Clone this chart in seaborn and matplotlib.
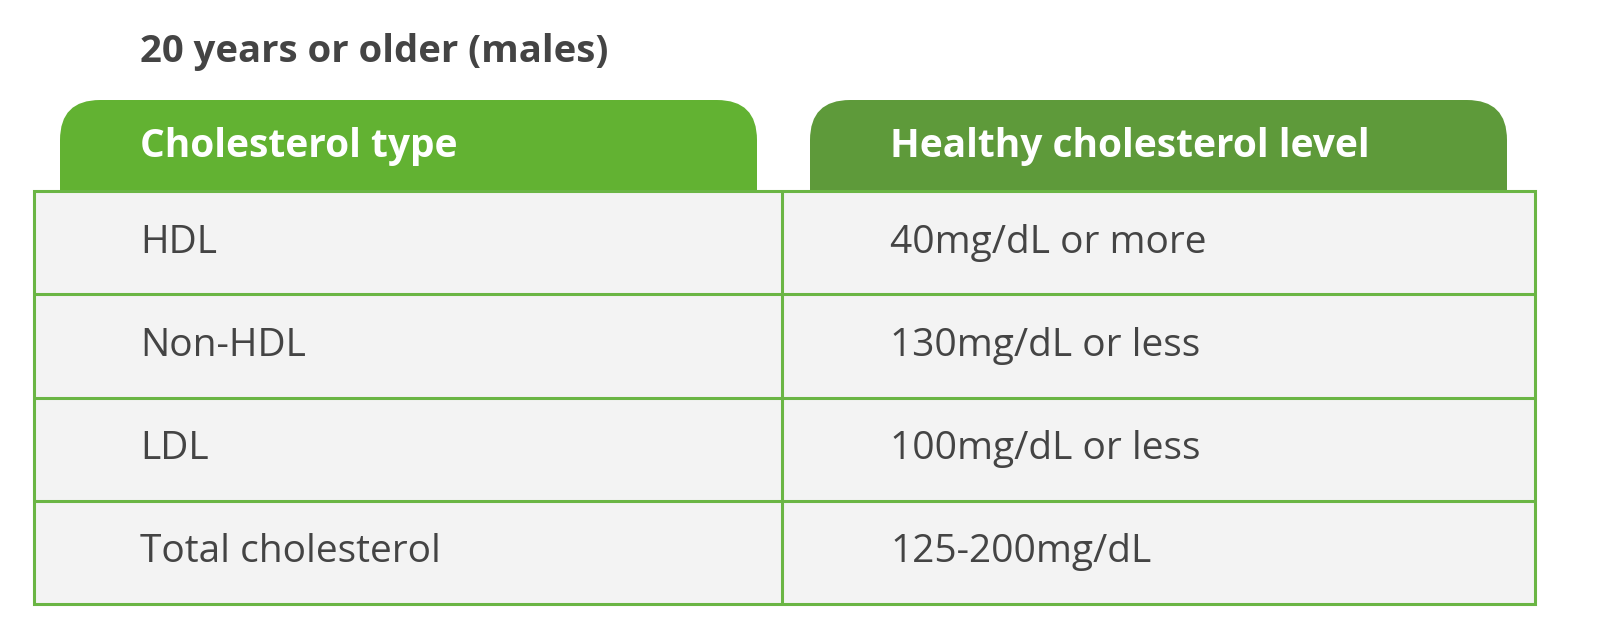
import matplotlib
matplotlib.use("Agg")
import matplotlib.pyplot as plt
from matplotlib.patches import FancyBboxPatch, Rectangle
import seaborn as sns

title = "20 years or older (males)"
headers = ["Cholesterol type", "Healthy cholesterol level"]
types = ["HDL", "Non-HDL", "LDL", "Total cholesterol"]
levels = ["40mg/dL or more", "130mg/dL or less", "100mg/dL or less", "125-200mg/dL"]

sns.set_theme(style="white")
plt.rcParams['font.family'] = ['Open Sans', 'DejaVu Sans']

fig = plt.figure(figsize=(16.04, 6.43), dpi=100)
ax = fig.add_axes([0, 0, 1, 1])
ax.set_xlim(0, 1604)
ax.set_ylim(643, 0)
ax.axis("off")

txt = "#444444"
border = "#6ab544"
ax.text(140, 52, title, fontsize=27.5, fontweight="bold", color=txt, va="center", ha="left")

tabs = [(60, 757, "#62b232"), (810, 1507, "#5e9a3a")]
for (x0, x1, c), h in zip(tabs, headers):
    ax.add_patch(FancyBboxPatch((x0 + 40, 140), x1 - x0 - 80, 100,
                                boxstyle="round,pad=40", fc=c, ec="none", zorder=1))
    ax.text(x0 + 80, 147, h, fontsize=28, fontweight="bold", color="white",
            va="center", ha="left", zorder=3)

top, bottom = 191, 604
ax.add_patch(Rectangle((34, top), 1501, bottom - top, fc="#f3f3f3", ec=border, lw=2.2, zorder=2))
row_h = (bottom - top) / len(types)
for i in range(1, len(types)):
    ax.plot([34, 1535], [top + i * row_h] * 2, color=border, lw=2.2, zorder=3)
ax.plot([782, 782], [top, bottom], color=border, lw=2.2, zorder=3)
for i, (t, l) in enumerate(zip(types, levels)):
    y = top + (i + 0.5) * row_h
    ax.text(140, y, t, fontsize=28, color=txt, va="center", ha="left", zorder=4)
    ax.text(890, y, l, fontsize=28, color=txt, va="center", ha="left", zorder=4)

fig.savefig("out.png", dpi=100, facecolor="white")
